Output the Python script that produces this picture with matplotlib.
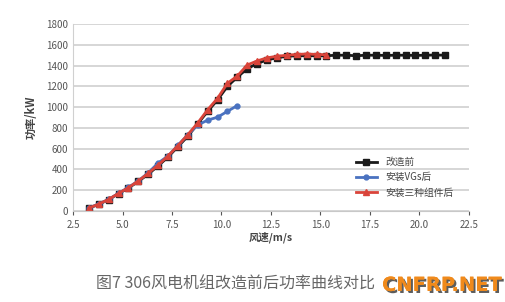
import numpy as np
import matplotlib
matplotlib.use('Agg')
import matplotlib.pyplot as plt
import matplotlib.patheffects as pe

plt.rcParams['font.family'] = ['Noto Sans CJK SC', 'DejaVu Sans']

# wind speed bins (m/s)
wind = [3.3, 3.8, 4.3, 4.8, 5.3, 5.8, 6.3, 6.8, 7.3, 7.8, 8.3, 8.8, 9.3, 9.8,
        10.3, 10.8, 11.3, 11.8, 12.3, 12.8, 13.3, 13.8, 14.3, 14.8, 15.3,
        15.8, 16.3, 16.8, 17.3, 17.8, 18.3, 18.8, 19.3, 19.8, 20.3, 20.8, 21.3]

# before retrofit
p_before = [28, 65, 110, 168, 222, 285, 355, 435, 520, 620, 720, 840, 960, 1070,
            1200, 1290, 1370, 1420, 1455, 1475, 1490, 1495, 1495, 1495, 1495,
            1500, 1500, 1495, 1500, 1500, 1498, 1500, 1500, 1498, 1500, 1502, 1500]

# after VGs (measured up to 10.8 m/s)
p_vgs = [28, 68, 112, 170, 228, 290, 368, 462, 530, 632, 735, 828, 875, 903,
         960, 1015]

# after three components
p_three = [28, 67, 112, 170, 225, 290, 363, 443, 530, 630, 735, 848, 975, 1085,
           1230, 1300, 1406, 1445, 1475, 1490, 1500, 1508, 1512, 1508, 1505]

fig = plt.figure(figsize=(5.05, 3.02), dpi=100)
ax = fig.add_axes([0.1446, 0.3013, 0.784, 0.619])

ax.plot(wind, p_before, color='#1a1a1a', marker='s', markersize=4, linewidth=2,
        label='改造前')
ax.plot(wind[:len(p_vgs)], p_vgs, color='#4a72c0', marker='o', markersize=3.5,
        linewidth=2, label='安装VGs后')
ax.plot(wind[:len(p_three)], p_three, color='#d9443a', marker='^', markersize=5,
        linewidth=2, label='安装三种组件后')

ax.set_xlim(2.5, 22.5)
ax.set_ylim(0, 1800)
ax.set_xticks(np.arange(2.5, 22.6, 2.5))
ax.set_xticklabels(['%.1f' % v for v in np.arange(2.5, 22.6, 2.5)])
ax.set_yticks(np.arange(0, 1801, 200))
ax.tick_params(labelsize=7, colors='#555555', length=3)
ax.tick_params(axis='y', length=0)
ax.grid(axis='y', color='#d0d0d0', linewidth=1.2)
ax.set_axisbelow(True)
for s in ['top', 'right']:
    ax.spines[s].set_visible(False)
ax.spines['left'].set_color('#d0d0d0')
ax.spines['bottom'].set_color('#c8c8c8')

ax.set_ylabel('功率/kW', fontsize=8, fontweight='bold', color='#444444', labelpad=6)
ax.set_xlabel('风速/m/s', fontsize=7.5, fontweight='bold', color='#444444', labelpad=1)

ax.legend(loc='lower right', bbox_to_anchor=(0.975, 0.04), frameon=False,
          fontsize=7, labelcolor='#444444', handlelength=2.2, borderaxespad=0.2,
          labelspacing=0.55)

# caption and site watermark
fig.text(0.19, 0.06, '图7 306风电机组改造前后功率曲线对比', fontsize=11.5,
         color='#666666', ha='left', va='center')
fig.text(0.875, 0.055, 'CNFRP.NET', fontsize=14, fontweight='bold',
         color='#f08a1c', ha='center', va='center', family='DejaVu Sans',
         path_effects=[pe.withSimplePatchShadow(offset=(1.5, -1.5),
                                                shadow_rgbFace='#333333', alpha=0.8),
                       pe.Normal()])

fig.savefig('out.png', dpi=100)
